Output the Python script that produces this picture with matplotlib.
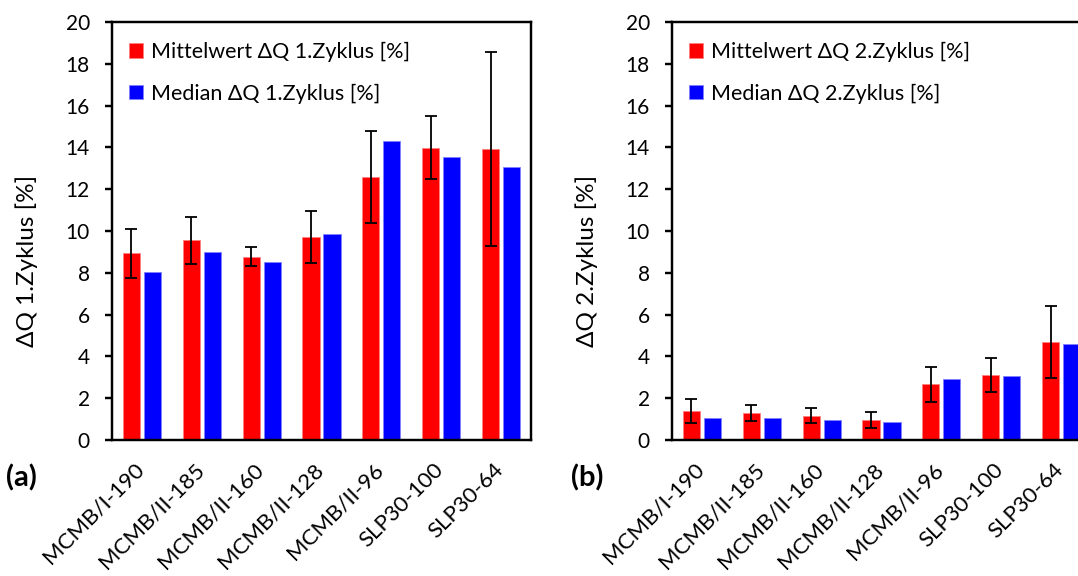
import numpy as np
import matplotlib
matplotlib.use('Agg')
import matplotlib.pyplot as plt
import matplotlib.transforms as mtransforms

plt.rcParams['font.family'] = ['Lato', 'DejaVu Sans']

samples = ['MCMB/I-190', 'MCMB/II-185', 'MCMB/II-160', 'MCMB/II-128',
           'MCMB/II-96', 'SLP30-100', 'SLP30-64']

# 1st cycle: mean, standard deviation, median
mean_1 = [8.93, 9.55, 8.77, 9.71, 12.60, 13.99, 13.91]
std_1 = [1.17, 1.12, 0.45, 1.25, 2.20, 1.52, 4.64]
median_1 = [8.05, 8.98, 8.50, 9.87, 14.29, 13.53, 13.05]

# 2nd cycle: mean, standard deviation, median
mean_2 = [1.39, 1.29, 1.16, 0.96, 2.66, 3.11, 4.69]
std_2 = [0.58, 0.38, 0.35, 0.38, 0.84, 0.82, 1.72]
median_2 = [1.05, 1.04, 0.97, 0.85, 2.90, 3.06, 4.58]

W, H = 1078, 576
fig = plt.figure(figsize=(W / 100, H / 100), dpi=100)


def panel(left_px, mean, std, median, cycle, tag):
    ax = fig.add_axes([left_px / W, (H - 440) / H, 419 / W, 418 / H])
    x = np.arange(len(samples))
    bw = 0.285
    off = 0.175
    ax.bar(x - off, mean, bw, color='#ff0000', edgecolor='#ff8080',
           linewidth=0.6, label='Mittelwert ΔQ %s.Zyklus [%%]' % cycle,
           yerr=std, error_kw=dict(ecolor='black', elinewidth=1.3,
                                   capsize=4.5, capthick=1.3))
    ax.bar(x + off, median, bw, color='#0000ff', edgecolor='#8080ff',
           linewidth=0.6, label='Median ΔQ %s.Zyklus [%%]' % cycle)

    ax.set_xlim(-0.5, len(samples) - 0.5)
    ax.set_ylim(0, 20)
    ax.set_yticks(np.arange(0, 21, 2))
    ax.tick_params(axis='y', direction='out', length=5, width=1.75,
                   labelsize=15, pad=11)
    ax.tick_params(axis='x', length=0, labelsize=16, pad=19)
    ax.set_xticks(x)
    ax.set_xticklabels(samples, rotation=45, ha='right', va='center',
                       rotation_mode='anchor')
    shift = mtransforms.ScaledTranslation(-1 / 100, 0, fig.dpi_scale_trans)
    for lbl in ax.get_xticklabels():
        lbl.set_transform(lbl.get_transform() + shift)
    for s in ax.spines.values():
        s.set_linewidth(1.75)
    ax.set_ylabel('ΔQ %s.Zyklus [%%]' % cycle, fontsize=17.5)
    ax.yaxis.set_label_coords(-0.177, 0.428)

    ax.legend(loc='upper left', bbox_to_anchor=(-0.005, 0.999),
              frameon=False, fontsize=15.5, handlelength=0.65,
              handleheight=0.65, handletextpad=0.35, labelspacing=1.0)

    fig.text(tag[1] / W, 1 - tag[2] / H, tag[0], fontsize=21,
             fontweight='bold', va='center', ha='left')


panel(112, mean_1, std_1, median_1, '1', ('(a)', 6, 478))
panel(672, mean_2, std_2, median_2, '2', ('(b)', 571, 478))

fig.savefig('out.png', dpi=100)
